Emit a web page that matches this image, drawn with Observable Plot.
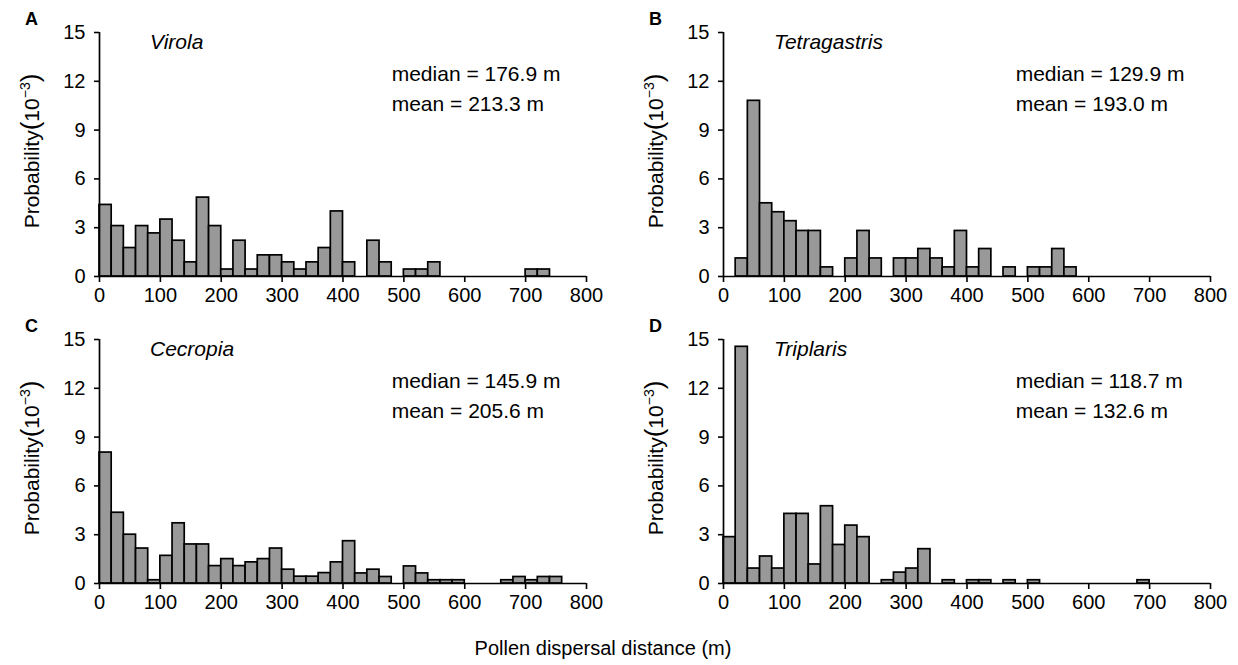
<!DOCTYPE html>
<html>
<head>
<meta charset="utf-8">
<script src="https://cdn.jsdelivr.net/npm/d3@7"></script>
<script src="https://cdn.jsdelivr.net/npm/@observablehq/plot@0.6"></script>
<style>
  html, body { margin: 0; padding: 0; background: #fff; }
  #wrap { position: relative; width: 1238px; height: 665px; background: #fff; font-family: "Liberation Sans", Arial, sans-serif; color: #000; }
  .panel { position: absolute; }
  .letter { position: absolute; font-weight: bold; font-size: 18px; line-height: 1; }
  .ylab { position: absolute; font-size: 21px; white-space: nowrap; transform: translate(-50%, -50%) rotate(-90deg); line-height: 1; }
  .ylab .par { font-size: 26px; }
  .ylab sup { font-size: 14px; vertical-align: 0.65em; line-height: 0; }
  .xtitle { position: absolute; font-size: 20px; white-space: nowrap; transform: translate(-50%, -50%); line-height: 1; }
</style>
</head>
<body>
<div id="wrap"></div>
<script>
// Bin starts (m), 20-m bins
const binStarts = d3.range(0, 800, 20);
const binWidth = 20;

// Probability (10^-3) per bin
const virola = [4.4,3.1,1.75,3.1,2.65,3.5,2.2,0.87,4.85,3.1,
                0.43,2.2,0.43,1.3,1.3,0.87,0.43,0.87,1.75,4.0,
                0.87,0,2.2,0.87,0,0.43,0.43,0.87,0,0,
                0,0,0,0,0,0.43,0.43,0,0,0];
const tetragastris = [0,1.11,10.8,4.5,3.95,3.4,2.8,2.8,0.56,0,
                      1.11,2.8,1.11,0,1.11,1.11,1.69,1.11,0.56,2.8,
                      0.56,1.69,0,0.56,0,0.56,0.56,1.69,0.56,0,
                      0,0,0,0,0,0,0,0,0,0];
const cecropia = [8.05,4.35,3.0,2.15,0.2,1.7,3.7,2.4,2.4,1.07,
                  1.5,1.07,1.3,1.5,2.15,0.85,0.42,0.42,0.64,1.3,
                  2.6,0.62,0.85,0.4,0,1.05,0.62,0.2,0.2,0.2,
                  0,0,0,0.2,0.4,0.2,0.4,0.4,0,0];
const triplaris = [2.85,14.55,0.92,1.66,0.92,4.28,4.28,1.17,4.75,2.37,
                   3.56,2.85,0,0.2,0.67,0.92,2.11,0,0.2,0,
                   0.2,0.2,0,0.2,0,0.2,0,0,0,0,
                   0,0,0,0,0.2,0,0,0,0,0];

const panelLetters = ["A", "B", "C", "D"];
const speciesNames = ["Virola", "Tetragastris", "Cecropia", "Triplaris"];
const medians = ["176.9", "129.9", "145.9", "118.7"];
const means = ["213.3", "193.0", "205.6", "132.6"];
const seriesList = [virola, tetragastris, cecropia, triplaris];

const xTicks = [0, 100, 200, 300, 400, 500, 600, 700, 800];
const yTicks = [0, 3, 6, 9, 12, 15];
const xTitle = "Pollen dispersal distance (m)";

const wrap = document.getElementById("wrap");
const W = 612, H = 310;
const offsets = [[0, 0], [624, 0], [0, 307], [624, 307]];

seriesList.forEach((vals, i) => {
  const rows = binStarts.map((b, j) => ({x1: b, x2: b + binWidth, y: vals[j]})).filter(d => d.y > 0);
  const chart = Plot.plot({
    width: W, height: H,
    marginLeft: 99, marginRight: 26, marginTop: 32, marginBottom: 34,
    x: {domain: [0, 800]},
    y: {domain: [0, 15]},
    style: {fontFamily: "'Liberation Sans', Arial, sans-serif", fontSize: "20px", color: "#000", background: "transparent", overflow: "visible"},
    marks: [
      Plot.rectY(rows, {x1: "x1", x2: "x2", y: "y", fill: "#999999", stroke: "#000", strokeWidth: 1.7, inset: 0}),
      Plot.ruleY([0], {stroke: "#000", strokeWidth: 1.7}),
      Plot.ruleX([0], {stroke: "#000", strokeWidth: 1.7}),
      Plot.axisX({ticks: xTicks, tickSize: 6, tickPadding: 5, label: null, strokeWidth: 1.6, fontSize: 20}),
      Plot.axisY({ticks: yTicks, tickSize: 5, tickPadding: 9, label: null, strokeWidth: 1.6, fontSize: 20}),
      Plot.text([speciesNames[i]], {x: 83, y: 14.4, text: d => d, textAnchor: "start", fontStyle: "italic", fontSize: 21}),
      Plot.text([{t: `median = ${medians[i]} m`, y: 12.44}, {t: `mean = ${means[i]} m`, y: 10.6}],
        {x: 480, y: "y", text: "t", textAnchor: "start", fontSize: 21})
    ]
  });
  chart.classList.add("panel");
  chart.style.left = offsets[i][0] + "px";
  chart.style.top = offsets[i][1] + "px";
  wrap.appendChild(chart);

  const L = document.createElement("div");
  L.className = "letter";
  L.textContent = panelLetters[i];
  L.style.left = (offsets[i][0] + 25) + "px";
  L.style.top = (offsets[i][1] + 10) + "px";
  wrap.appendChild(L);

  const Y = document.createElement("div");
  Y.className = "ylab";
  Y.innerHTML = "Probability<span class='par'>(</span>10<sup>\u22123</sup><span class='par'>)</span>";
  Y.style.left = (offsets[i][0] + 30) + "px";
  Y.style.top = (offsets[i][1] + 151) + "px";
  wrap.appendChild(Y);
});

const T = document.createElement("div");
T.className = "xtitle";
T.textContent = xTitle;
T.style.left = "603px";
T.style.top = "648px";
wrap.appendChild(T);
</script>
</body>
</html>
